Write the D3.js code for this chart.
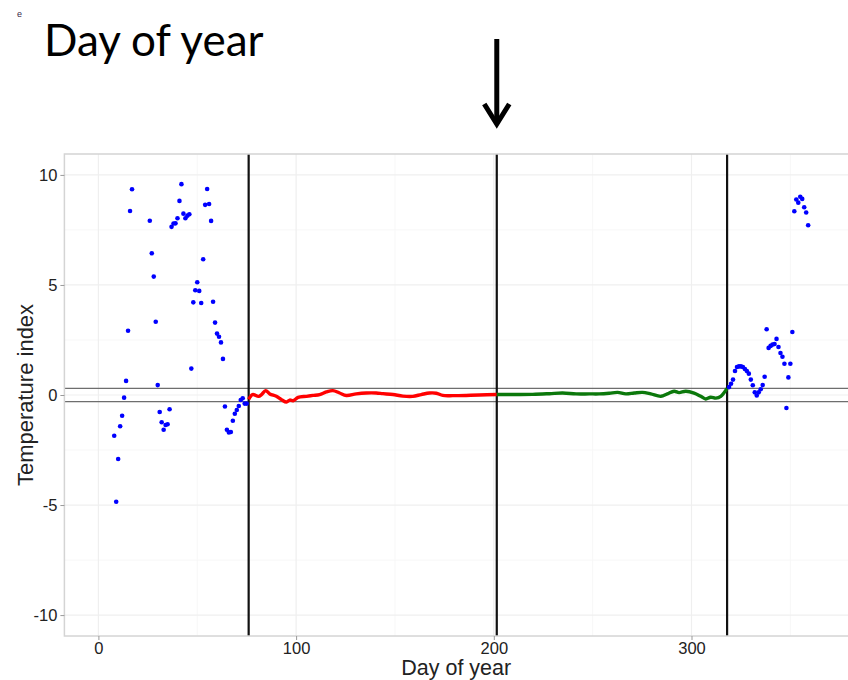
<!DOCTYPE html>
<html>
<head>
<meta charset="utf-8">
<script src="https://cdn.jsdelivr.net/npm/d3@7"></script>
<style>
  body { margin: 0; background: #fff; }
  text { font-family: "Liberation Sans", Arial, sans-serif; }
</style>
</head>
<body>
<svg width="848" height="680"></svg>
<script>
// scattered daily points (outside the season)
var blueDays = [8, 9, 10, 11, 12, 13, 14, 15, 16, 17, 26, 27, 28, 29, 30, 31, 32, 33, 34, 35, 36, 37, 38, 39, 40, 41, 42, 43, 44, 45, 46, 47, 48, 49, 50, 51, 52, 53, 54, 55, 56, 57, 58, 59, 60, 61, 62, 63, 64, 65, 66, 67, 68, 69, 70, 71, 72, 73, 74, 75,
    319, 320, 321, 322, 323, 324, 325, 326, 327, 328, 329, 330, 331, 332, 333, 334, 335, 336, 337, 338, 339, 340, 341, 342, 343, 344, 345, 346, 347, 348, 349, 350, 351, 352, 353, 354, 355, 356, 357, 358, 359];
var blueValues = [-1.85, -4.85, -2.91, -1.42, -0.94, -0.12, 0.64, 2.92, 8.36, 9.35, 7.92, 6.44, 5.38, 3.33, 0.45, -0.77, -1.24, -1.58, -1.36, -1.33, -0.65, 7.64, 7.79, 7.8, 8.03, 8.82, 9.58, 8.24, 8.03, 8.15, 8.21, 1.2, 4.21, 4.76, 5.12, 4.73, 4.18, 6.17, 8.64, 9.36, 8.68, 7.91, 4.24, 3.29, 2.79, 2.65, 2.39, 1.64, -0.52, -1.58, -1.7, -1.68, -1.17, -0.85, -0.68, -0.5, -0.23, -0.15, -0.39, -0.39,
    0.36, 0.51, 0.7, 1.09, 1.27, 1.3, 1.3, 1.27, 1.18, 1.09, 0.97, 0.7, 0.44, 0.12, -0.02, 0.12, 0.26, 0.45, 0.83, 2.99, 2.14, 2.23, 2.29, 2.32, 2.55, 2.18, 1.91, 1.74, 1.42, -0.59, 0.8, 1.42, 2.86, 8.35, 8.88, 8.74, 9.01, 8.91, 8.53, 8.29, 7.71];

// first half of the season
var redDays = [76, 78, 81, 82.5, 84.6, 86.7, 90, 92.6, 95.1, 96.8, 98.5, 101, 105.2, 108.5, 111.9, 115.3, 118.6, 122, 125.4, 130.4, 135.5, 140.5, 143.9, 149, 154, 159, 163.3, 167.5, 170.9, 174.2, 179.3, 186, 192.7, 201.5];
var redValues = [-0.2, 0.02, -0.06, 0.02, 0.2, 0.05, -0.06, -0.21, -0.32, -0.23, -0.26, -0.11, -0.06, -0.02, 0.02, 0.14, 0.2, 0.09, -0.02, 0.05, 0.09, 0.09, 0.06, 0.02, -0.05, -0.06, 0.02, 0.09, 0.08, -0.02, -0.03, -0.02, 0, 0.02];

// second half of the season
var greenDays = [201.5, 209.6, 219.7, 228.1, 234.8, 241.6, 248.3, 253.3, 258.4, 262.6, 266.8, 271, 275.2, 279.4, 284.5, 287.8, 291.2, 293.7, 297.1, 301.3, 304.7, 307.2, 309.7, 312.3, 314.8, 318];
var greenValues = [0.02, 0.02, 0.03, 0.06, 0.09, 0.05, 0.05, 0.05, 0.08, 0.12, 0.05, 0.09, 0.12, 0.05, -0.06, 0.05, 0.17, 0.11, 0.17, 0.09, -0.06, -0.18, -0.1, -0.14, -0.06, 0.3];

var breakDays = [76, 201.5, 318];
var bandValues = [0.3, -0.3];
var xTicks = [0, 100, 200, 300];
var xMinor = [50, 150, 250, 350];
var yTicks = [-10, -5, 0, 5, 10];
var yMinor = [-7.5, -2.5, 2.5, 7.5];

var svg = d3.select("svg"),
    margin = {top: 154, right: -8, bottom: 44, left: 64.4},
    width = +svg.attr("width") - margin.left - margin.right,
    height = +svg.attr("height") - margin.top - margin.bottom;
//panel runs a little past the right edge of the picture

var x = d3.scaleLinear().domain([-17.2, 383.2]).range([0, width]),
    y = d3.scaleLinear().domain([-10.95, 10.95]).range([height, 0]);

var g = svg.append("g")
    .attr("transform", "translate(" + margin.left + "," + margin.top + ")");

// grid
g.selectAll(".minx").data(xMinor).enter().append("line")
    .attr("x1", function (d) { return x(d); }).attr("x2", function (d) { return x(d); })
    .attr("y1", 0).attr("y2", height)
    .attr("stroke", "#f7f7f7").attr("stroke-width", 1);
g.selectAll(".miny").data(yMinor).enter().append("line")
    .attr("y1", function (d) { return y(d); }).attr("y2", function (d) { return y(d); })
    .attr("x1", 0).attr("x2", width)
    .attr("stroke", "#f7f7f7").attr("stroke-width", 1);
g.selectAll(".majx").data(xTicks).enter().append("line")
    .attr("x1", function (d) { return x(d); }).attr("x2", function (d) { return x(d); })
    .attr("y1", 0).attr("y2", height)
    .attr("stroke", "#efefef").attr("stroke-width", 1.2);
g.selectAll(".majy").data(yTicks).enter().append("line")
    .attr("y1", function (d) { return y(d); }).attr("y2", function (d) { return y(d); })
    .attr("x1", 0).attr("x2", width)
    .attr("stroke", "#efefef").attr("stroke-width", 1.2);

// +-0.3 band
g.selectAll(".band").data(bandValues).enter().append("line")
    .attr("y1", function (d) { return y(d); }).attr("y2", function (d) { return y(d); })
    .attr("x1", 0).attr("x2", width)
    .attr("stroke", "#6e6e6e").attr("stroke-width", 1.3);

// season breaks
g.selectAll(".brk").data(breakDays).enter().append("line")
    .attr("x1", function (d) { return x(d); }).attr("x2", function (d) { return x(d); })
    .attr("y1", 0).attr("y2", height)
    .attr("stroke", "#111").attr("stroke-width", 2.2);

var line = d3.line()
    .x(function (d) { return x(d[0]); })
    .y(function (d) { return y(d[1]); })
    .curve(d3.curveCatmullRom);

g.append("path")
    .datum(d3.zip(redDays, redValues))
    .attr("d", line)
    .attr("fill", "none").attr("stroke", "#ff0000").attr("stroke-width", 3.4);
g.append("path")
    .datum(d3.zip(greenDays, greenValues))
    .attr("d", line)
    .attr("fill", "none").attr("stroke", "#0b780b").attr("stroke-width", 3.4);

g.selectAll(".pt").data(d3.zip(blueDays, blueValues)).enter().append("circle")
    .attr("cx", function (d) { return x(d[0]); })
    .attr("cy", function (d) { return y(d[1]); })
    .attr("r", 2.3)
    .attr("fill", "#0000ff");

// panel border
g.append("rect")
    .attr("width", width).attr("height", height)
    .attr("fill", "none").attr("stroke", "#d4d4d4").attr("stroke-width", 1.5);

// axes, plain hyphen for negatives like the original
var fmt = function (d) { return String(d); };
var xAxis = g.append("g")
    .attr("transform", "translate(0," + height + ")")
    .call(d3.axisBottom(x).tickValues(xTicks).tickFormat(fmt).tickSize(4).tickPadding(2));
var yAxis = g.append("g")
    .call(d3.axisLeft(y).tickValues(yTicks).tickFormat(fmt).tickSize(4).tickPadding(3));
[xAxis, yAxis].forEach(function (a) {
    a.select(".domain").remove();
    a.selectAll(".tick line").attr("stroke", "#999");
    a.selectAll(".tick text")
        .attr("fill", "#222")
        .style("font-size", "16.5px")
        .style("font-family", "'Liberation Sans', Arial, sans-serif");
});

svg.append("text")
    .attr("x", margin.left + width / 2 - 4)
    .attr("y", 675)
    .attr("text-anchor", "middle")
    .attr("fill", "#222")
    .style("font-size", "21.5px")
    .text("Day of year");

svg.append("text")
    .attr("transform", "translate(33," + (margin.top + height / 2) + ") rotate(-90)")
    .attr("text-anchor", "middle")
    .attr("fill", "#222")
    .style("font-size", "22px")
    .text("Temperature index");

// slide title, stray letter and the arrow
svg.append("text")
    .attr("x", 44).attr("y", 56)
    .style("font-family", "Lato, 'Open Sans', sans-serif")
    .style("font-size", "44px")
    .attr("fill", "#000")
    .text("Day of year");
svg.append("text")
    .attr("x", 17).attr("y", 17)
    .style("font-size", "9px")
    .attr("fill", "#3a2a4a")
    .text("e");

var ax = x(breakDays[1]) + margin.left;
svg.append("line")
    .attr("x1", ax).attr("x2", ax).attr("y1", 39).attr("y2", 122)
    .attr("stroke", "#000").attr("stroke-width", 5);
svg.append("path")
    .attr("d", "M" + (ax - 12.5) + ",104 L" + ax + ",124 L" + (ax + 12.5) + ",104")
    .attr("fill", "none").attr("stroke", "#000").attr("stroke-width", 5)
    .attr("stroke-linejoin", "miter");
</script>
</body>
</html>
